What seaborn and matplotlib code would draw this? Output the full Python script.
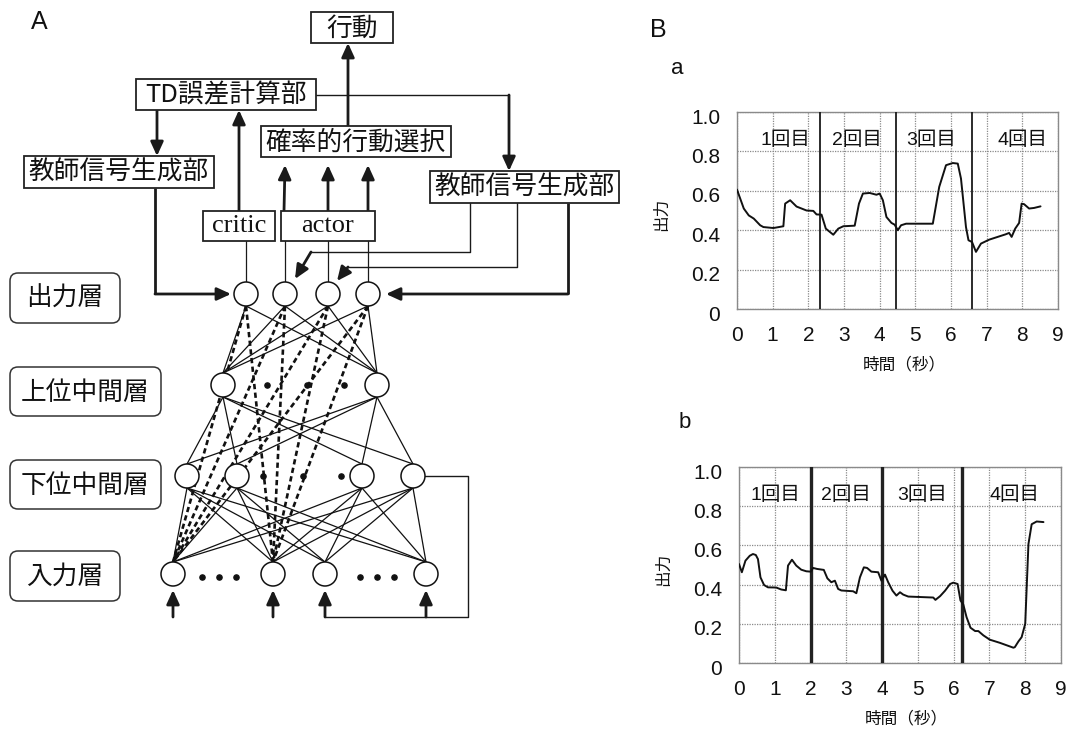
import matplotlib
matplotlib.use("Agg")
import matplotlib.pyplot as plt
import matplotlib.transforms as mtransforms
from matplotlib.patches import Rectangle, Circle, FancyBboxPatch
import seaborn as sns

# ---------------- Panel B data ----------------
time_a = [0, 0.19, 0.33, 0.47, 0.65, 0.74, 1.02, 1.30, 1.35, 1.49, 1.67, 1.95, 2.14, 2.23,
          2.37, 2.49, 2.70, 2.84, 2.98, 3.30, 3.42, 3.53, 3.72, 3.91, 4.00, 4.09, 4.19,
          4.33, 4.42, 4.51, 4.60, 4.74, 5.49, 5.67, 5.86, 6.05, 6.19, 6.28, 6.42, 6.49,
          6.59, 6.70, 6.84, 7.07, 7.53, 7.63, 7.70, 7.80, 7.91, 7.98, 8.05, 8.19, 8.33, 8.51]
output_a = [0.606, 0.51, 0.475, 0.459, 0.425, 0.416, 0.411, 0.42, 0.535, 0.552, 0.52, 0.50,
            0.498, 0.48, 0.479, 0.408, 0.377, 0.408, 0.42, 0.423, 0.535, 0.586, 0.589, 0.58,
            0.586, 0.552, 0.467, 0.437, 0.428, 0.40, 0.425, 0.433, 0.433, 0.62, 0.73, 0.741,
            0.738, 0.662, 0.416, 0.349, 0.34, 0.29, 0.332, 0.352, 0.379, 0.386, 0.366, 0.408,
            0.437, 0.535, 0.532, 0.51, 0.513, 0.521]

time_b = [0, 0.08, 0.18, 0.30, 0.39, 0.47, 0.53, 0.60, 0.70, 0.81, 1.04, 1.18, 1.31, 1.37,
          1.48, 1.60, 1.74, 1.88, 2.01, 2.07, 2.18, 2.37, 2.47, 2.58, 2.68, 2.77, 2.86, 3.19,
          3.28, 3.38, 3.49, 3.58, 3.70, 3.89, 3.98, 4.08, 4.17, 4.29, 4.40, 4.50, 4.59, 4.73,
          5.43, 5.49, 5.62, 5.76, 5.90, 5.99, 6.11, 6.19, 6.27, 6.36, 6.47, 6.60, 6.69, 6.83,
          7.01, 7.29, 7.67, 7.71, 7.81, 7.90, 8.00, 8.09, 8.18, 8.32, 8.51]
output_b = [0.505, 0.463, 0.522, 0.547, 0.556, 0.551, 0.53, 0.437, 0.398, 0.386, 0.385,
            0.375, 0.371, 0.497, 0.527, 0.497, 0.476, 0.468, 0.466, 0.485, 0.48, 0.475,
            0.432, 0.412, 0.42, 0.378, 0.37, 0.366, 0.356, 0.437, 0.488, 0.485, 0.466,
            0.463, 0.42, 0.451, 0.412, 0.369, 0.344, 0.361, 0.349, 0.339, 0.334, 0.322,
            0.341, 0.369, 0.403, 0.41, 0.403, 0.319, 0.298, 0.234, 0.18, 0.163, 0.163,
            0.141, 0.119, 0.103, 0.078, 0.081, 0.11, 0.132, 0.20, 0.607, 0.708, 0.722, 0.719]

bounds_a = [2.33, 4.45, 6.58]
bounds_b = [2.02, 4.01, 6.24]
trial_labels = ["1回目", "2回目", "3回目", "4回目"]
label_x_a = [1.35, 3.35, 5.44, 8.0]
label_x_b = [1.03, 3.0, 5.12, 7.71]
x_ticks = list(range(10))
y_ticks = [0, 0.2, 0.4, 0.6, 0.8, 1.0]
y_ticklabels = ["0", "0.2", "0.4", "0.6", "0.8", "1.0"]

# ---------------- Panel A layout (pixel units of the figure) ----------------
out_x = [246, 285, 328, 368]
upper_x = [223, 377]
lower_x = [187, 237, 362, 413]
input_x = [173, 273, 325, 426]
layer_y = [294, 385, 476, 574]
upper_dots = [267, 307, 344]
lower_dots = [263, 303, 341]
input_dots = [202, 219, 236, 360, 377, 394]
R = 12

# name, x0, y0, x1, y1
text_boxes = [
    ("行動", 311, 12, 393, 43),
    ("TD誤差計算部", 136, 79, 316, 110),
    ("教師信号生成部", 24, 156, 214, 188),
    ("確率的行動選択", 261, 126, 451, 157),
    ("教師信号生成部", 430, 171, 619, 203),
]
role_boxes = [("critic", 203, 211, 275, 241), ("actor", 281, 211, 375, 241)]
layer_boxes = [
    ("出力層", 10, 273, 120, 323),
    ("上位中間層", 10, 367, 161, 416),
    ("下位中間層", 10, 460, 161, 509),
    ("入力層", 10, 551, 120, 601),
]

W, H = 1072, 730
sns.set_theme(style="white")
plt.rcParams['font.family'] = ['Liberation Sans', 'Noto Sans CJK JP', 'DejaVu Sans']
CJK = ['Noto Sans CJK JP', 'DejaVu Sans']

fig = plt.figure(figsize=(W / 100, H / 100), dpi=100)
fig.patch.set_facecolor('white')

# ---------------- Panel A: network diagram ----------------
ax = fig.add_axes([0, 0, 640 / W, 1])
ax.set_xlim(0, 640)
ax.set_ylim(H, 0)
ax.axis('off')


def arrow(points, lw=2.0, head_lw=None):
    xs = [p[0] for p in points[:-1]]
    ys = [p[1] for p in points[:-1]]
    if len(points) > 2:
        ax.plot(xs, ys, color='k', lw=lw, solid_capstyle='butt', zorder=2)
    ax.annotate('', xy=points[-1], xytext=points[-2],
                arrowprops=dict(arrowstyle='-|>,head_length=0.7,head_width=0.32',
                                lw=head_lw or lw, color='k', shrinkA=0, shrinkB=0,
                                mutation_scale=12), zorder=3)


for name, x0, y0, x1, y1 in text_boxes:
    ax.add_patch(Rectangle((x0, y0), x1 - x0, y1 - y0, fill=True, fc='white',
                           ec='#222', lw=1.3, zorder=4))
    ax.text((x0 + x1) / 2, (y0 + y1) / 2 + 1, name, ha='center', va='center',
            fontsize=18.5, family=CJK, color='#111', zorder=5)

for name, x0, y0, x1, y1 in role_boxes:
    ax.add_patch(Rectangle((x0, y0), x1 - x0, y1 - y0, fc='white', ec='#222', lw=1.3, zorder=4))
    ax.text((x0 + x1) / 2, (y0 + y1) / 2, name, ha='center', va='center',
            fontsize=19, family='Liberation Serif', color='#111', zorder=5)

for name, x0, y0, x1, y1 in layer_boxes:
    ax.add_patch(FancyBboxPatch((x0 + 8, y0 + 8), x1 - x0 - 16, y1 - y0 - 16,
                                boxstyle='round,pad=8', fc='white', ec='#333', lw=1.1))
    ax.text((x0 + x1) / 2, (y0 + y1) / 2 + 1, name, ha='center', va='center',
            fontsize=18.5, family=CJK, color='#111')

# arrows between boxes
arrow([(348, 126), (348, 43)])
arrow([(157, 110), (157, 156)])
arrow([(239, 211), (239, 110)])
for x in out_x[1:]:
    arrow([(x - (1 if x == out_x[1] else 0), 211), (x, 165)])
ax.plot([316, 509], [95, 95], color='k', lw=1.0, zorder=2)
arrow([(509, 95), (509, 171)], lw=2.0)
arrow([(155, 188), (155, layer_y[0]), (231, layer_y[0])])
arrow([(568, 203), (568, layer_y[0]), (386, layer_y[0])])
ax.plot([470, 470, 311], [203, 252, 252], color='k', lw=1.0, zorder=2)
arrow([(311, 252), (295, 279)])
ax.plot([517, 517, 348], [203, 267, 267], color='k', lw=1.0, zorder=2)
arrow([(348, 267), (337, 281)])

# critic/actor down to output units
for x in out_x:
    ax.plot([x, x], [241, layer_y[0] - R], color='k', lw=0.9, zorder=1)

# full connections
layers = [out_x, upper_x, lower_x, input_x]
for i in range(3):
    for xa in layers[i]:
        for xb in layers[i + 1]:
            ax.plot([xa, xb], [layer_y[i] + R, layer_y[i + 1] - R], color='#111', lw=0.9, zorder=1)

# direct (dashed) connections from two input units to every output unit
for xo in out_x:
    for xi in input_x[:2]:
        ax.plot([xo, xi], [layer_y[0] + R, layer_y[3] - R], color='#111', lw=1.9,
                linestyle=(0, (2.0, 1.3)), zorder=2)

for xs, y in zip(layers, layer_y):
    for x in xs:
        ax.add_patch(Circle((x, y), R, fc='white', ec='#111', lw=1.1, zorder=3))
for xs, y in [(upper_dots, layer_y[1]), (lower_dots, layer_y[2]), (input_dots, layer_y[3] + 3)]:
    ax.scatter(xs, [y] * len(xs), s=14, color='#111', zorder=4)

# input arrows and recurrent loop
for x in input_x:
    arrow([(x, 617), (x, 590)])
ax.plot([lower_x[3] + R, 468, 468, input_x[2]],
        [layer_y[2], layer_y[2], 617, 617], color='k', lw=1.0, zorder=2)

# ---------------- Panel B: output traces ----------------
panels = [
    ([737 / W, 1 - 309 / H, 321 / W, 197 / H], time_a, output_a, bounds_a, label_x_a, 1.3, 'k'),
    ([739 / W, 1 - 663 / H, 322 / W, 196 / H], time_b, output_b, bounds_b, label_x_b, 2.4, '#222'),
]
offset = mtransforms.ScaledTranslation(0, -3 / 72, fig.dpi_scale_trans)
for pos, t, y, bounds, lx, blw, bcol in panels:
    bx = fig.add_axes(pos)
    sns.lineplot(x=t, y=y, ax=bx, color='#111', lw=1.4, zorder=4)
    for b in bounds:
        bx.axvline(b, color=bcol, lw=blw, zorder=3)
    for lab, x in zip(trial_labels, lx):
        bx.text(x, 0.855, lab, ha='center', va='center', fontsize=14, color='#111')
    bx.set_xlim(0, 9)
    bx.set_ylim(0, 1)
    bx.set_xticks(x_ticks)
    bx.set_yticks(y_ticks)
    bx.set_yticklabels(y_ticklabels)
    bx.grid(True, color='#8a8a8a', linestyle=(0, (1, 1)), lw=0.9)
    bx.tick_params(length=0, labelsize=15, pad=12, colors='#111')
    for lab in bx.get_yticklabels():
        lab.set_transform(lab.get_transform() + offset)
    for s in bx.spines.values():
        s.set_visible(True)
        s.set_color('#8a8a8a')
        s.set_linewidth(1.0)
    bx.set_xlabel("時間（秒）", fontsize=12, family=CJK, color='#111')
    bx.xaxis.set_label_coords(0.52, -0.285)
    bx.xaxis.label.set_verticalalignment('center')
    bx.set_ylabel("出力", fontsize=12, family=CJK, color='#111')
    bx.yaxis.set_label_coords(-0.235, 0.48)
    bx.yaxis.label.set_verticalalignment('center')

fig.text(39 / W, 1 - 22 / H, "A", fontsize=18, ha='center', va='center', color='#111')
fig.text(658 / W, 1 - 30 / H, "B", fontsize=18, ha='center', va='center', color='#111')
fig.text(677 / W, 1 - 68 / H, "a", fontsize=16, ha='center', va='center', color='#111')
fig.text(685 / W, 1 - 423 / H, "b", fontsize=16, ha='center', va='center', color='#111')

fig.savefig("out.png", dpi=100, facecolor='white')
